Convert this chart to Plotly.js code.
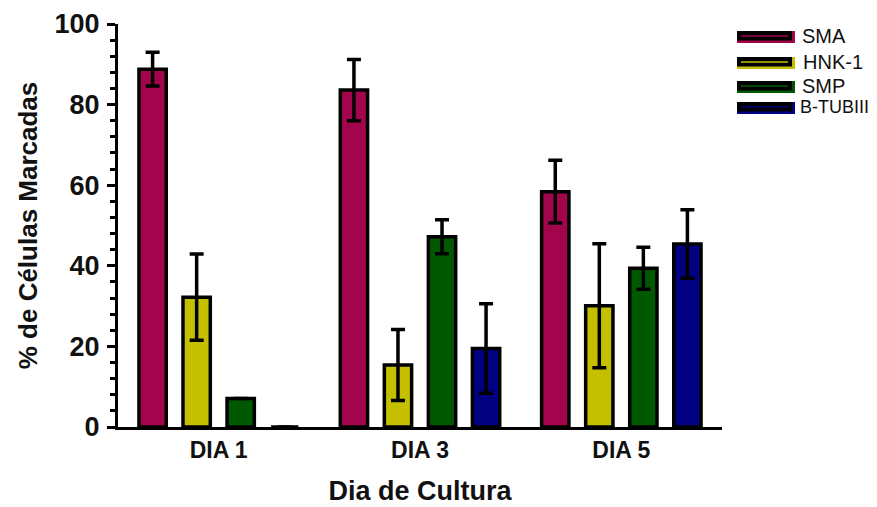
<!DOCTYPE html>
<html>
<head>
<meta charset="utf-8">
<script src="https://cdn.plot.ly/plotly-3.0.1.min.js"></script>
<style>
body{margin:0;padding:0;background:#fff;}
#chart{width:877px;height:507px;}
</style>
</head>
<body>
<div id="chart"></div>
<script>
// ---- data ----
var categories = ["DIA 1", "DIA 3", "DIA 5"];
var seriesNames = ["SMA", "HNK-1", "SMP", "B-TUBIII"];
var smaValues = [88.8, 83.6, 58.4];
var smaErrors = [4.2, 7.6, 7.8];
var hnkValues = [32.2, 15.4, 30.1];
var hnkErrors = [10.7, 8.8, 15.4];
var smpValues = [7.1, 47.2, 39.4];
var smpErrors = [0, 4.2, 5.2];
var btubValues = [0, 19.5, 45.4];
var btubErrors = [0, 11.1, 8.5];
var yTickVals = [0, 20, 40, 60, 80, 100];
var yTickText = ["0", "20", "40", "60", "80", "100"];

var colors = ["#A2054B", "#C4C000", "#005800", "#000080"];
var values = [smaValues, hnkValues, smpValues, btubValues];
var errors = [smaErrors, hnkErrors, smpErrors, btubErrors];

var FONT = "Liberation Sans, Arial, sans-serif";

var traces = seriesNames.map(function(name, i){
  return {
    type: "bar",
    name: name,
    x: categories,
    y: values[i],
    marker: {color: colors[i], line: {color: "#000", width: 3.5}},
    error_y: {type: "data", array: errors[i], visible: true, color: "#000", thickness: 3.5, width: 7},
    showlegend: false,
    hoverinfo: "skip"
  };
});

// plot area in pixels
var L = 118, R = 722, T = 24, B = 427;
function px(x){ return (x - L) / (R - L); }
function py(y){ return (B - y) / (B - T); }

// custom legend (wide rectangle symbols like the original)
var legendRows = [36, 62, 86, 107];
var legendTextX = [800, 801, 800, 798];
var legendTextSize = [20, 20, 20, 18];
var shapes = [], annotations = [];
seriesNames.forEach(function(name, i){
  var yc = legendRows[i];
  shapes.push({type: "rect", xref: "paper", yref: "paper", x0: px(737), x1: px(795), y0: py(yc + 7), y1: py(yc - 5),
    fillcolor: colors[i], line: {width: 0}});
  shapes.push({type: "rect", xref: "paper", yref: "paper", x0: px(737), x1: px(792), y0: py(yc + 4.5), y1: py(yc - 5),
    fillcolor: "#000", line: {width: 0}});
  shapes.push({type: "line", xref: "paper", yref: "paper", x0: px(741), x1: px(788), y0: py(yc), y1: py(yc),
    line: {color: colors[i], width: 1.5}});
  annotations.push({xref: "paper", yref: "paper", x: px(legendTextX[i]), y: py(yc), xanchor: "left", yanchor: "middle",
    text: name, showarrow: false, font: {family: FONT, size: legendTextSize[i], color: "#111"}});
});

var layout = {
  width: 877, height: 507,
  margin: {l: L, r: 877 - R, t: T, b: 507 - B, pad: 0},
  paper_bgcolor: "#fff", plot_bgcolor: "#fff",
  barmode: "group",
  bargap: 0.125,
  bargroupgap: 0.38,
  font: {family: FONT, color: "#000"},
  xaxis: {
    range: [-0.5, 2.5],
    showline: true, linecolor: "#000", linewidth: 3,
    ticks: "", showgrid: false, zeroline: false,
    tickfont: {family: FONT, size: 23, weight: "bold", color: "#111"},
    title: {text: "Dia de Cultura", font: {family: FONT, size: 27, weight: "bold", color: "#111"}, standoff: 20}
  },
  yaxis: {
    range: [0, 100],
    tickmode: "array", tickvals: yTickVals, ticktext: yTickText,
    showline: true, linecolor: "#000", linewidth: 3,
    ticks: "outside", ticklen: 8, tickwidth: 3, tickcolor: "#000",
    minor: {dtick: 4, ticks: "outside", ticklen: 5, tickwidth: 3, tickcolor: "#000", showgrid: false},
    showgrid: false, zeroline: false,
    tickfont: {family: FONT, size: 27, weight: "bold", color: "#111"},
    ticklabelstandoff: 2,
    title: {text: "% de Células Marcadas", font: {family: FONT, size: 26, weight: "bold", color: "#111"}, standoff: 10}
  },
  shapes: shapes,
  annotations: annotations
};

Plotly.newPlot("chart", traces, layout, {staticPlot: true, displayModeBar: false});
</script>
</body>
</html>
